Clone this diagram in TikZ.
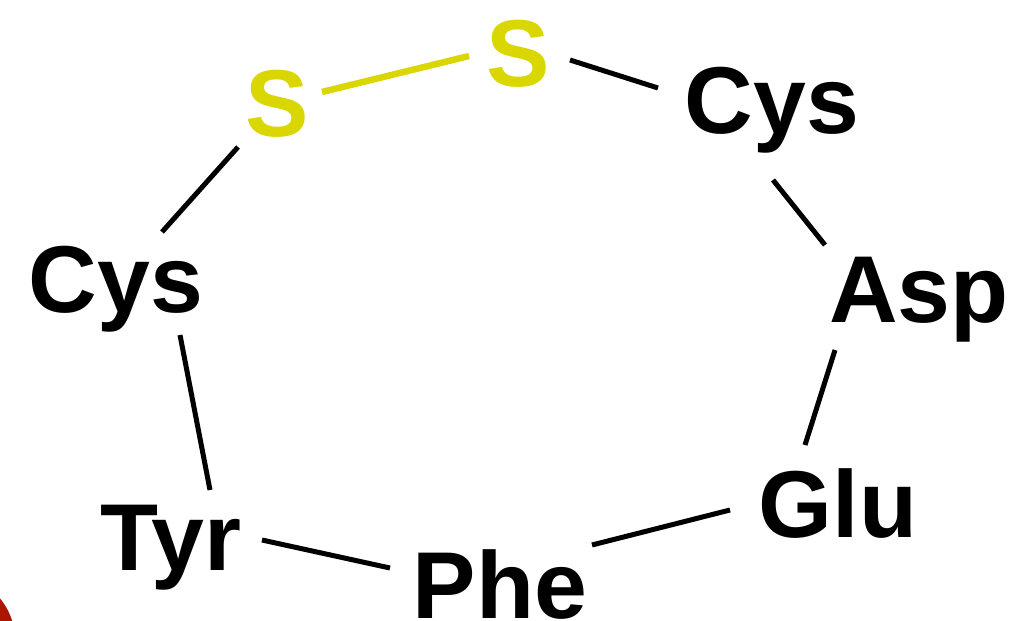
\documentclass[tikz,border=0pt]{standalone}
\usepackage{fontspec}
\setmainfont{Liberation Sans}
\definecolor{sulfur}{RGB}{217,214,0}
\definecolor{blob}{RGB}{170,22,0}
\tikzset{
  res/.style={font=\bfseries\fontsize{95}{95}\selectfont, text height=68pt, text depth=0pt, inner sep=0pt},
  sres/.style={res, text=sulfur},
  bond/.style={line width=5pt, black},
  ssbond/.style={line width=6.5pt, sulfur}
}
\begin{document}
\begin{tikzpicture}[x=1pt,y=-1pt]
\useasboundingbox (0,0) rectangle (1031,621);
\begin{scope}
\clip (0,0) rectangle (1031,621);
\fill[blob] (-50,640) circle (65);
\end{scope}
\node[sres] (s1) at (277,102) {S};
\node[sres] (s2) at (518,52) {S};
\node[res] (cysR) at (772,99) {Cys};
\node[res] (cysL) at (116,278) {Cys};
\node[res] (asp) at (919,288) {Asp};
\node[res] (glu) at (838,503) {Glu};
\node[res] (tyr) at (171,536) {Tyr};
\node[res] (phe) at (500,584) {Phe};
\draw[bond] ([shift={(46,-46)}]cysL.center) -- ([shift={(-39,45)}]s1.center);
\draw[ssbond] ([shift={(45,-10)}]s1.center) -- ([shift={(-49,4)}]s2.center);
\draw[bond] ([shift={(52,8)}]s2.center) -- ([shift={(-114,-11)}]cysR.center);
\draw[bond] ([shift={(1,81)}]cysR.center) -- ([shift={(-94,-43)}]asp.center);
\draw[bond] ([shift={(-84,62)}]asp.center) -- ([shift={(-33,-58)}]glu.center);
\draw[bond] ([shift={(-108,7)}]glu.center) -- ([shift={(92,-39)}]phe.center);
\draw[bond] ([shift={(-110,-16)}]phe.center) -- ([shift={(91,4)}]tyr.center);
\draw[bond] ([shift={(39,-46)}]tyr.center) -- ([shift={(64,57)}]cysL.center);
\end{tikzpicture}
\end{document}
